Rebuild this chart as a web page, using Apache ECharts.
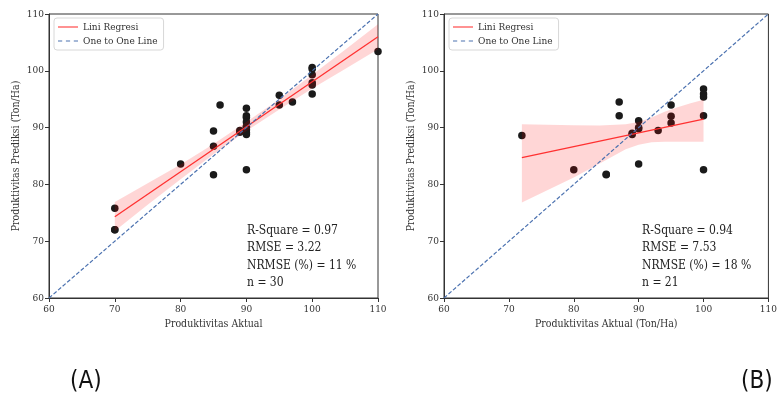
<!DOCTYPE html>
<html>
<head>
<meta charset="utf-8">
<script src="https://cdn.jsdelivr.net/npm/echarts@6/dist/echarts.min.js"></script>
<style>
html,body{margin:0;padding:0;background:#fff;}
#c{width:780px;height:400px;}
</style>
</head>
<body>
<div id="c"></div>
<script>
// ---------- data ----------
const tickValues = [60, 70, 80, 90, 100, 110];

// Chart A
const actualA = [70, 70, 70, 80, 85, 85, 85, 86, 89, 89, 90, 90, 90, 90, 90, 90, 90, 90, 90, 90, 95, 95, 97, 100, 100, 100, 100, 100, 100, 110];
const predA   = [75.8, 72.0, 72.0, 83.6, 81.7, 86.7, 89.4, 94.0, 89.5, 89.2, 93.4, 92.1, 91.8, 91.0, 90.2, 90.0, 89.6, 89.1, 88.8, 82.6, 95.7, 94.0, 94.5, 100.6, 100.3, 99.3, 97.9, 97.5, 95.9, 103.4];
const regXA   = [70, 110];
const regYA   = [74.3, 106.0];
const bandXA  = [70, 75, 80, 85, 90, 95, 100, 105, 110];
const bandUpA = [76.9, 80.2, 83.5, 87.1, 91.0, 95.0, 99.3, 103.7, 108.2];
const bandLoA = [71.8, 76.4, 80.9, 85.3, 89.4, 93.2, 96.9, 100.3, 103.8];

// Chart B
const actualB = [72, 80, 85, 85, 87, 87, 89, 89, 90, 90, 90, 90, 93, 95, 95, 95, 100, 100, 100, 100, 100];
const predB   = [88.6, 82.6, 81.7, 81.8, 94.5, 92.1, 89.0, 88.8, 91.2, 90.0, 89.8, 83.6, 89.5, 94.0, 92.0, 90.8, 96.8, 95.9, 95.4, 92.1, 82.6];
const regXB   = [72, 100];
const regYB   = [84.7, 91.5];
const bandXB  = [72, 76, 80, 84, 88, 90, 92, 94, 96, 98, 100];
const bandUpB = [90.6, 90.5, 90.4, 90.35, 90.6, 91.0, 91.8, 92.8, 93.6, 94.3, 94.9];
const bandLoB = [76.8, 79.0, 81.2, 83.7, 86.2, 87.0, 87.4, 87.5, 87.5, 87.5, 87.5];

const oneToOne = [60, 110];

const statsA = ['R-Square = 0.97', 'RMSE = 3.22', 'NRMSE (%) = 11 %', 'n = 30'];
const statsB = ['R-Square = 0.94', 'RMSE = 7.53', 'NRMSE (%) = 18 %', 'n = 21'];

const xNameA = 'Produktivitas Aktual';
const xNameB = 'Produktivitas Aktual (Ton/Ha)';
const yName = 'Produktivitas Prediksi (Ton/Ha)';
const legendNames = ['Lini Regresi', 'One to One Line'];

// ---------- chart ----------
const FONT = '"DejaVu Serif Condensed", "DejaVu Serif", serif';
const RED = '#ff3030';
const BLUE = '#4c72b0';
const zip = (a, b) => a.map((v, i) => [v, b[i]]);

function axisX(idx, name) {
  return {
    type: 'value', gridIndex: idx, min: 60, max: 110, interval: 10,
    name: name, nameLocation: 'middle', nameGap: 21,
    nameTextStyle: {fontFamily: FONT, fontSize: 10.5, color: '#333'},
    axisLine: {show: true, onZero: false, lineStyle: {color: '#333', width: 1}},
    axisTick: {show: true, inside: false, length: 4, lineStyle: {color: '#333'}},
    axisLabel: {fontFamily: FONT, fontSize: 10, color: '#333', margin: 6},
    splitLine: {show: false}
  };
}
function axisY(idx) {
  return {
    type: 'value', gridIndex: idx, min: 60, max: 110, interval: 10,
    name: yName, nameLocation: 'middle', nameGap: 27,
    nameTextStyle: {fontFamily: FONT, fontSize: 10.5, color: '#333'},
    axisLine: {show: true, onZero: false, lineStyle: {color: '#333', width: 1}},
    axisTick: {show: true, inside: false, length: 4, lineStyle: {color: '#333'}},
    axisLabel: {fontFamily: FONT, fontSize: 10, color: '#333', margin: 5},
    splitLine: {show: false}
  };
}

function bandSeries(idx, xs, up, lo) {
  const pts = xs.map((x, i) => [x, up[i], lo[i]]);
  return {
    type: 'custom', xAxisIndex: idx, yAxisIndex: idx, z: 3, silent: true,
    data: pts,
    renderItem: function (params, api) {
      if (params.dataIndex !== 0) return null;
      const top = pts.map(p => api.coord([p[0], p[1]]));
      const bot = pts.slice().reverse().map(p => api.coord([p[0], p[2]]));
      return {
        type: 'polygon',
        shape: {points: top.concat(bot)},
        style: {fill: 'rgba(255,0,0,0.16)', stroke: null}
      };
    }
  };
}

function seriesFor(idx, ax, pr, rx, ry, bx, bu, bl) {
  return [
    {
      type: 'scatter', xAxisIndex: idx, yAxisIndex: idx, z: 2,
      data: zip(ax, pr), symbolSize: 7.5,
      itemStyle: {color: '#1a1a1a', opacity: 1}
    },
    bandSeries(idx, bx, bu, bl),
    {
      name: legendNames[0], type: 'line', xAxisIndex: idx, yAxisIndex: idx, z: 4,
      data: zip(rx, ry), symbol: 'none', silent: true,
      itemStyle: {color: RED},
      lineStyle: {color: RED, width: 1.3}
    },
    {
      name: legendNames[1], type: 'line', xAxisIndex: idx, yAxisIndex: idx, z: 5,
      data: zip(oneToOne, oneToOne), symbol: 'none', silent: true,
      itemStyle: {color: BLUE},
      lineStyle: {color: BLUE, width: 1.2, type: [4, 2]}
    }
  ];
}

function legendFor(left) {
  return {
    left: left, top: 18, orient: 'vertical',
    data: [
      {name: legendNames[0], icon: 'path://M0,0h19v1h-19z', itemStyle: {color: RED}},
      {name: legendNames[1], icon: 'path://M0,0h4v1h-4z M7.5,0h4v1h-4z M15,0h4v1h-4z', itemStyle: {color: BLUE}}
    ],
    itemWidth: 20, itemHeight: 1.6, itemGap: 4,
    textStyle: {fontFamily: FONT, fontSize: 10, color: '#333'},
    borderColor: '#d8d8d8', borderWidth: 1, borderRadius: 3,
    padding: [4, 6, 4, 4],
    backgroundColor: 'rgba(255,255,255,0.8)',
    selectedMode: false
  };
}

function statsGraphic(left, lines) {
  return lines.map((t, i) => ({
    type: 'text', left: left, top: 225 + i * 17.2,
    style: {text: t, fontFamily: FONT, fontSize: 12, fill: '#222'}
  }));
}

const chart = echarts.init(document.getElementById('c'), null, {renderer: 'canvas'});

chart.setOption({
  animation: false,
  backgroundColor: '#fff',
  grid: [
    {left: 49, top: 14, width: 329, height: 284, show: true, borderColor: '#333', borderWidth: 1, backgroundColor: 'transparent'},
    {left: 444, top: 14, width: 329, height: 284, show: true, borderColor: '#333', borderWidth: 1, backgroundColor: 'transparent'}
  ],
  xAxis: [axisX(0, xNameA), axisX(1, xNameB)],
  yAxis: [axisY(0), axisY(1)],
  legend: [legendFor(54), legendFor(449)],
  series: [].concat(
    seriesFor(0, actualA, predA, regXA, regYA, bandXA, bandUpA, bandLoA),
    seriesFor(1, actualB, predB, regXB, regYB, bandXB, bandUpB, bandLoB)
  ),
  graphic: [].concat(
    statsGraphic(247, statsA),
    statsGraphic(642, statsB),
    [
      {type: 'text', left: 70, top: 370, style: {text: '(A)', fontFamily: '"DejaVu Sans Condensed", "DejaVu Sans", sans-serif', fontSize: 24, fill: '#111'}},
      {type: 'text', left: 741, top: 370, style: {text: '(B)', fontFamily: '"DejaVu Sans Condensed", "DejaVu Sans", sans-serif', fontSize: 24, fill: '#111'}}
    ]
  )
});
</script>
</body>
</html>
